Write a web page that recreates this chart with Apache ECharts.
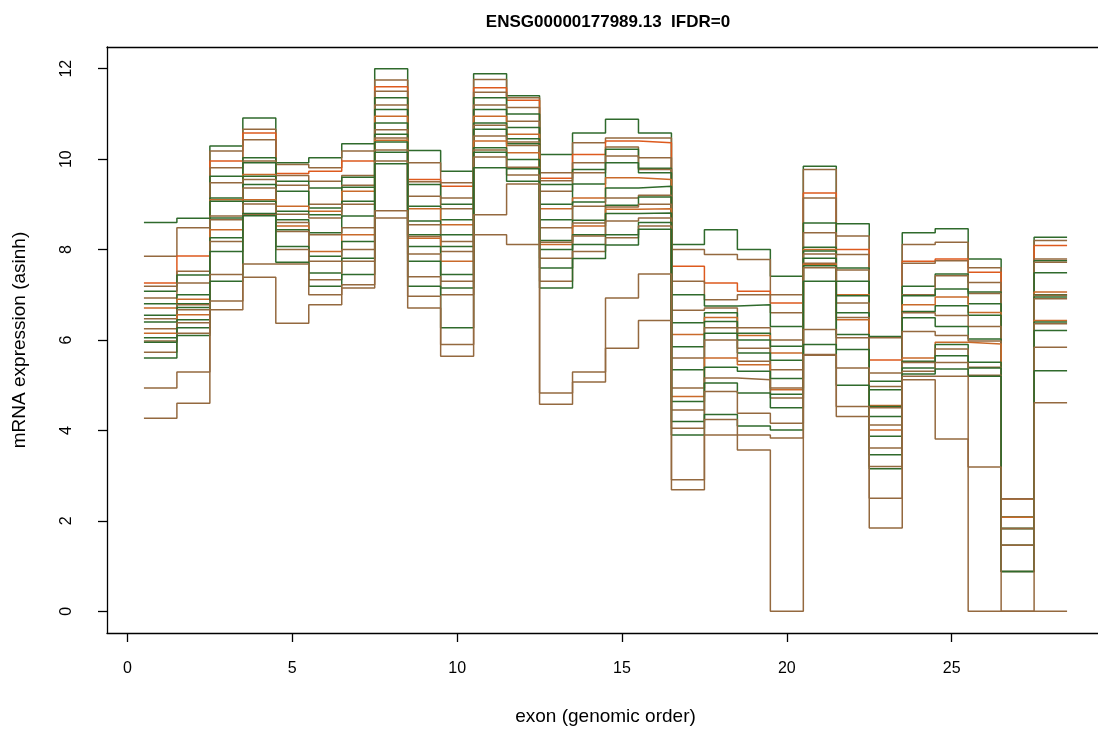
<!DOCTYPE html>
<html>
<head>
<meta charset="utf-8">
<script src="https://cdn.jsdelivr.net/npm/echarts@6/dist/echarts.min.js"></script>
<style>
html,body{margin:0;padding:0;background:#fff;overflow:hidden;width:1098px;height:735px;}
#chart{width:1112px;height:735px;}
</style>
</head>
<body>
<div id="chart"></div>
<script>
// exon index 1..28
const exons = [1,2,3,4,5,6,7,8,9,10,11,12,13,14,15,16,17,18,19,20,21,22,23,24,25,26,27,28];
const xTicks = [0,5,10,15,20,25];
const yTicks = [0,2,4,6,8,10,12];

// per-sample expression (asinh) for each exon
const s01 = [8.6,8.69,10.29,10.91,9.92,10.03,10.34,12.0,10.19,9.73,11.89,11.4,10.1,10.58,10.88,10.58,8.11,8.44,8.0,7.41,9.84,8.57,6.08,8.37,8.46,7.79,2.49,8.27];
const s02 = [7.85,8.48,10.18,10.66,9.88,9.81,10.18,11.75,9.92,9.48,11.76,11.36,9.7,10.36,10.47,10.47,8.0,7.89,7.78,7.0,9.77,8.3,6.05,8.11,8.16,7.6,2.49,8.2];
const s03 = [7.26,7.86,9.96,10.58,9.68,9.73,9.96,11.6,9.55,9.4,11.58,11.3,9.58,10.1,10.4,10.36,7.63,7.26,7.08,6.82,9.25,8.0,5.56,7.74,7.79,7.5,2.49,8.09];
const s04 = [7.19,7.52,9.81,10.43,9.64,9.51,9.64,11.5,9.5,9.14,11.48,11.14,9.52,9.92,10.27,10.03,7.3,6.89,7.0,6.6,9.14,7.89,5.27,7.7,7.75,7.27,2.49,7.79];
const s05 = [7.08,7.44,9.62,10.03,9.51,9.36,9.6,11.36,9.44,9.0,11.36,11.0,9.44,9.77,10.22,9.8,7.0,6.75,6.78,6.3,8.59,7.59,5.09,7.19,7.46,7.06,2.08,7.75];
const s06 = [6.93,7.26,9.48,9.96,9.42,9.0,9.42,11.2,9.18,8.9,11.2,10.84,9.29,9.7,10.07,9.77,6.66,6.71,6.27,6.0,8.37,7.55,4.97,7.0,7.42,7.03,2.08,7.72];
const s07 = [6.8,7.0,9.14,9.92,9.29,8.92,9.38,11.1,8.96,8.66,11.1,10.7,9.0,9.45,9.92,9.7,6.38,6.6,6.15,5.86,8.05,7.3,4.9,6.98,7.13,6.8,2.08,7.49];
const s08 = [6.71,6.9,9.1,9.66,8.96,8.85,9.29,10.95,8.9,8.55,10.95,10.55,8.9,9.14,9.59,9.55,6.12,6.5,6.1,5.71,8.0,7.0,4.55,6.78,6.95,6.61,2.08,7.06];
const s09 = [6.55,6.8,9.07,9.62,8.85,8.77,9.07,10.8,8.63,8.33,10.8,10.45,8.66,9.05,9.36,9.4,5.85,6.41,6.0,5.55,7.97,6.98,4.53,6.63,6.76,6.55,1.83,7.0];
const s10 = [6.47,6.78,8.74,9.55,8.78,8.7,9.0,10.65,8.55,8.18,10.75,10.38,8.48,8.96,9.14,9.2,5.6,6.27,5.82,5.34,7.9,6.82,4.5,6.6,6.54,6.3,1.83,6.99];
const s11 = [6.4,6.72,8.7,9.44,8.66,8.37,8.74,10.55,8.33,8.07,10.66,10.34,8.2,8.65,8.98,9.16,5.34,6.15,5.71,5.15,7.81,6.6,4.31,6.49,6.3,6.02,1.83,6.95];
const s12 = [6.25,6.67,8.66,9.36,8.6,8.33,8.48,10.47,8.29,7.96,10.51,10.3,8.16,8.59,8.94,9.0,4.94,6.0,5.53,4.94,7.7,6.5,4.12,6.19,6.1,5.98,1.83,6.91];
const s13 = [6.15,6.56,8.44,9.1,8.52,7.96,8.33,10.42,8.25,7.74,10.4,10.14,8.11,8.52,8.89,8.9,4.75,5.6,5.45,4.9,7.67,6.45,4.01,5.6,5.95,5.91,1.46,6.43];
const s14 = [6.05,6.45,8.26,9.07,8.44,7.85,8.18,10.38,8.07,7.45,10.25,9.99,8.0,8.33,8.8,8.81,4.64,5.4,5.31,4.8,7.64,6.12,3.87,5.53,5.9,5.51,1.46,6.4];
const s15 = [5.98,6.38,8.18,9.01,8.4,7.74,8.0,10.2,7.9,7.3,10.2,9.82,7.81,8.3,8.63,8.7,4.45,5.16,5.12,4.72,7.6,6.05,3.61,5.5,5.8,5.4,1.46,6.36];
const s16 = [5.95,6.27,7.96,8.8,8.07,7.48,7.81,10.15,7.74,7.15,10.15,9.79,7.59,8.11,8.33,8.6,4.2,5.05,4.83,4.5,7.3,5.79,3.46,5.38,5.65,5.38,0.88,6.21];
const s17 = [5.73,6.15,7.45,8.77,8.0,7.33,7.74,9.96,7.4,7.0,10.05,9.65,7.3,7.96,8.26,8.52,4.05,4.86,4.38,4.16,6.23,5.38,3.2,5.31,5.5,5.22,0.88,5.84];
const s18 = [5.6,6.1,7.3,8.75,7.72,7.19,7.45,9.9,7.19,6.27,9.81,9.51,7.15,7.8,8.1,8.45,3.9,4.35,4.1,4.01,5.9,5.0,3.15,5.25,5.36,5.2,0.88,5.32];
const s19 = [4.94,5.29,6.86,7.68,7.68,7.0,7.22,8.86,6.97,5.9,8.77,9.45,4.83,5.29,6.93,7.46,2.91,4.24,3.9,3.83,5.68,4.53,2.5,5.2,5.2,3.19,0,4.61];
const s20 = [4.27,4.6,6.67,7.39,6.37,6.78,7.15,8.7,6.71,5.64,8.33,8.11,4.58,5.07,5.82,6.43,2.69,3.9,3.57,0,5.66,4.31,1.84,5.12,3.81,0,0,0];

const samples = [s01,s02,s03,s04,s05,s06,s07,s08,s09,s10,s11,s12,s13,s14,s15,s16,s17,s18,s19,s20];
const GREEN = '#2f6a2c', BROWN = '#94693f', ORANGE = '#c96a2a', RED = '#dd5a1e';
const sampleColors = [GREEN,BROWN,RED,BROWN,GREEN,BROWN,GREEN,ORANGE,GREEN,BROWN,GREEN,BROWN,ORANGE,GREEN,BROWN,GREEN,BROWN,GREEN,BROWN,BROWN];

const chart = echarts.init(document.getElementById('chart'), null, {renderer:'canvas'});
const FONT = 'Liberation Sans, Arial, sans-serif';

const series = samples.map((vals, k) => {
  const pts = [];
  vals.forEach((v, i) => {
    pts.push([exons[i] - 0.5, v]);
    pts.push([exons[i] + 0.5, v]);
  });
  return {
    type: 'line', data: pts, showSymbol: false, symbol: 'none', silent: true,
    lineStyle: {color: sampleColors[k], width: 1.5}, z: 2
  };
});

const frame = {show: true, onZero: false, lineStyle: {color: '#000', width: 1.3}};

chart.setOption({
  animation: false,
  backgroundColor: '#fff',
  title: {
    text: 'ENSG00000177989.13  IFDR=0',
    left: 603, top: 9, textAlign: 'center',
    textStyle: {fontFamily: FONT, fontWeight: 'bold', fontSize: 17, color: '#000'}
  },
  grid: {left: 107, top: 47, width: 997, height: 586, show: false},
  xAxis: [{
    type: 'value', min: -0.62, max: 29.62, position: 'bottom',
    name: 'exon (genomic order)', nameLocation: 'middle', nameGap: 74,
    nameTextStyle: {fontFamily: FONT, fontSize: 19, color: '#000'},
    axisLine: frame,
    axisTick: {show: true, customValues: xTicks, length: 9, lineStyle: {color: '#000', width: 1.3}},
    axisLabel: {customValues: xTicks, margin: 28, fontFamily: FONT, fontSize: 16, color: '#000'},
    splitLine: {show: false}
  }, {
    type: 'value', min: -0.62, max: 29.62, position: 'top',
    axisLine: frame, axisTick: {show: false}, axisLabel: {show: false}, splitLine: {show: false}
  }],
  yAxis: {
    type: 'value', min: -0.48, max: 12.48,
    name: 'mRNA expression (asinh)', nameLocation: 'middle', nameGap: 78, nameRotate: 90,
    nameTextStyle: {fontFamily: FONT, fontSize: 19, color: '#000'},
    axisLine: frame,
    axisTick: {show: true, customValues: yTicks, length: 9, lineStyle: {color: '#000', width: 1.3}},
    axisLabel: {customValues: yTicks, margin: 32, rotate: 90, fontFamily: FONT, fontSize: 16, color: '#000'},
    splitLine: {show: false}
  },
  series: series
});
</script>
</body>
</html>
